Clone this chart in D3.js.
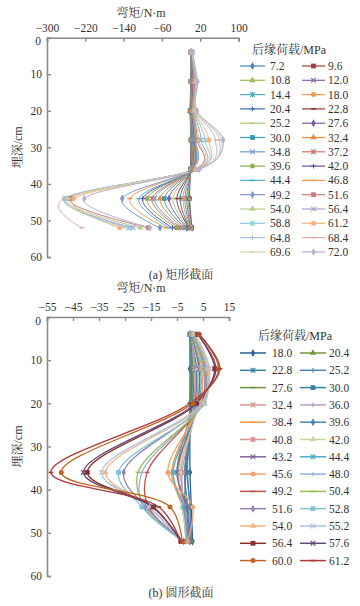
<!DOCTYPE html>
<html><head><meta charset="utf-8">
<script src="https://cdn.jsdelivr.net/npm/d3@7/dist/d3.min.js"></script>
<style>body{margin:0;background:#fff}svg{display:block}</style>
</head><body><svg id="c" width="360" height="606"></svg>
<script>
// ---------- DATA ----------
const depthsA = [4, 12, 20, 28, 36, 44, 52];
const loadsA = ["7.2","9.6","10.8","12.0","14.4","18.0","20.4","22.8","25.2","27.6","30.0","32.4","34.8","37.2","39.6","42.0","44.4","46.8","49.2","51.6","54.0","56.4","58.8","61.2","64.8","68.4","69.6","72.0"];
const momentsA = [
  [1, 0, -1, 0, 0, -2, 3],
  [1, 1, -1, 1, 0, -3, 2],
  [1, 1, -1, 1, 1, -5, 1],
  [1, 1, 0, 2, 1, -8, 0],
  [1, 2, 0, 2, 1, -12, -1],
  [1, 2, 0, 3, 1, -16, -2],
  [1, 2, 1, 3, 1, -22, -3],
  [1, 3, 1, 4, 1, -29, -4],
  [1, 3, 1, 4, 1, -37, -6],
  [1, 3, 1, 5, 1, -45, -8],
  [2, 4, 2, 5, 1, -55, -12],
  [2, 4, 2, 6, 1, -64, -16],
  [2, 5, 2, 6, 2, -75, -20],
  [2, 5, 3, 7, 2, -81, -25],
  [2, 6, 3, 8, 2, -91, -30],
  [2, 6, 3, 8, 2, -100, -38],
  [2, 7, 4, 9, 2, -108, -45],
  [2, 7, 4, 10, 2, -127, -52],
  [2, 8, 5, 11, 3, -143, -64],
  [2, 9, 6, 14, 8, -252, -88],
  [2, 10, 7, 17, 10, -258, -105],
  [3, 10, 8, 22, 12, -262, -120],
  [3, 11, 9, 30, 14, -260, -130],
  [3, 12, 10, 38, 15, -244, -148],
  [3, 12, 11, 52, 16, -262, -125],
  [3, 13, 12, 60, 18, -264, -227],
  [3, 14, 12, 65, 18, -256, -140],
  [3, 14, 13, 68, 18, -222, -85]
];
const depthsB = [4, 12, 20, 36, 44, 52];
const loadsB = ["18.0","20.4","22.8","25.2","27.6","30.0","32.4","36.0","38.4","39.6","40.8","42.0","43.2","44.4","45.6","48.0","49.2","50.4","51.6","52.8","54.0","55.2","56.4","57.6","60.0","61.2"];
const momentsB = [
  [0, 0, 0, 0, 0.5, 1],
  [0, 0.5, 0, -1, 0, 0.5],
  [0, 0.5, 0.5, -2, -1, 0],
  [0, 1, 0.5, -1, 0, 0.5],
  [0, 1, 1, -5, -1, 0],
  [0, 1.5, 1, -1.5, -2, -0.5],
  [0.5, 1.5, 1.5, -3.5, -2, -1],
  [0.5, 2, 2, -4.5, -2.5, -1],
  [0.5, 2.5, 2.5, -7, -3, -1.5],
  [0.5, 2.5, 2, -2, -1, 0],
  [0.5, 3, 2.5, -3, -2.5, -1.5],
  [0.5, 3, 3, -4, -3, -1],
  [0.5, 3.5, 3, -5, -1.5, -0.5],
  [0.5, 4, 3.5, -6.5, -2.5, -1],
  [1, 4.5, 4, -8.5, 1, -1],
  [1, 5, 4.5, -18.5, -18, -2],
  [1, 5.5, 4.5, -16.5, -16, -2.5],
  [1, 5.5, 5, -20, -17.5, -2],
  [1.5, 6, 5, -25.5, -17, -2.5],
  [1.5, 6.5, 5.5, -27.5, -18.5, -3],
  [1.5, 7, 5, -32.5, -15.5, -3],
  [2, 7.5, 4.5, -34, -16, -3],
  [3, 9.5, 2.5, -39.5, -14, -3.5],
  [3, 10, 2, -41, -14.5, -3],
  [3.5, 11, 1, -49.5, -7.7, -3],
  [3.5, 11.5, 0, -53.5, -12, -3.5]
];
const ticksXA = [-300, -220, -140, -60, 20, 100];
const ticksXB = [-55, -45, -35, -25, -15, -5, 5, 15];
const ticksY = [0, 10, 20, 30, 40, 50, 60];

// ---------- STYLES ----------
const colorsA = ["#4F81BD","#A0403D","#9BBB59","#8064A2","#4BACC6","#F79646","#3C6DB0","#953735","#B0C97A","#7A5FA0","#3A9AB5","#F08A3C","#6F9BD4","#D0706D","#8DB050","#6A50A0","#4BB0CA","#F59A50","#7C9AD0","#C77B7A","#B6CF8A","#ABA0C8","#8CCBDC","#F8B07A","#A9C1E3","#E2AAA9","#C9DBA8","#B9AED3"];
const markerCycle = ["diamond","square","triangle","x","star","circle","plus","dash","dash"];
const colorsB = ["#2F5F9A","#77933C","#31859C","#4F81BD","#77933C","#31859C","#D99694","#B3A2C7","#F79646","#4F81BD","#D99694","#C3D69B","#8064A2","#4BACC6","#F4A070","#95B3D7","#C0504D","#9BBB59","#9983B5","#7FC4D6","#F9B27E","#A9C1E3","#8B2E2B","#5F497A","#C0651F","#B03A36"];
const markersB = ["diamond","triangle","star","plus","dash","square","star","plus","dash","diamond","square","triangle","x","star","circle","plus","dash","dash","diamond","square","triangle","x","square","x","circle","dash"];

const serif = "'Liberation Serif','Times New Roman',serif";
const cjk = "'Liberation Serif','Noto Serif CJK SC','Noto Sans CJK SC',serif";
const svg = d3.select("#c");
const fmt = d => (d < 0 ? "\u2212" + Math.abs(d) : "" + d);

function marker(g, type, color, cx, cy) {
  const s = 2.4;
  if (type === "diamond") g.append("path").attr("d", d3.symbol(d3.symbolDiamond, 18)()).attr("transform", `translate(${cx},${cy})`).attr("fill", color);
  else if (type === "square") g.append("rect").attr("x", cx - s).attr("y", cy - s).attr("width", 2 * s).attr("height", 2 * s).attr("fill", color);
  else if (type === "triangle") g.append("path").attr("d", d3.symbol(d3.symbolTriangle, 18)()).attr("transform", `translate(${cx},${cy})`).attr("fill", color);
  else if (type === "circle") g.append("circle").attr("cx", cx).attr("cy", cy).attr("r", 2.5).attr("fill", color);
  else {
    let segs = [];
    if (type === "x" || type === "star") segs.push([-s, -s, s, s], [-s, s, s, -s]);
    if (type === "star") segs.push([0, -s, 0, s]);
    if (type === "plus") segs.push([-s, 0, s, 0], [0, -s, 0, s]);
    if (type === "dash") segs.push([-s, 0, s, 0]);
    segs.forEach(q => g.append("line").attr("x1", cx + q[0]).attr("y1", cy + q[1]).attr("x2", cx + q[2]).attr("y2", cy + q[3])
      .attr("stroke", color).attr("stroke-width", type === "dash" ? 1.6 : 1.1));
  }
}

function panel(cfg) {
  const x = d3.scaleLinear().domain(cfg.xd).range(cfg.xr);
  const y = d3.scaleLinear().domain([0, 60]).range(cfg.yr);
  const g = svg.append("g");
  const line = d3.line().x(d => x(d[0])).y(d => y(d[1])).curve(cfg.curve);
  cfg.values.forEach((vals, i) => {
    const pts = vals.map((v, j) => [v, cfg.depths[j]]);
    g.append("path").attr("d", line(pts)).attr("fill", "none").attr("stroke", cfg.colors[i]).attr("stroke-width", cfg.lw);
  });
  cfg.values.forEach((vals, i) => {
    vals.forEach((v, j) => marker(g, cfg.markers[i], cfg.colors[i], x(v), y(cfg.depths[j])));
  });
  const ax = g.append("g").attr("transform", `translate(0,${cfg.yr[0]})`)
    .call(d3.axisTop(x).tickValues(cfg.xt).tickSize(-4).tickPadding(6).tickFormat(fmt));
  const ay = g.append("g").attr("transform", `translate(${cfg.xr[0]},0)`)
    .call(d3.axisLeft(y).tickValues(ticksY).tickSize(-4).tickPadding(5));
  [ax, ay].forEach(a => {
    a.select(".domain").attr("stroke", "#8a8a8a").attr("stroke-width", 1.6);
    a.selectAll(".tick line").attr("stroke", "#8a8a8a").attr("stroke-width", 1.4);
    a.selectAll("text").attr("font-family", serif).attr("font-size", 11.5).attr("fill", "#333");
  });
  // lower the "0" label slightly so it clears the top axis labels
  ay.selectAll(".tick").filter(d => d === 0).select("text").attr("dy", "0.62em").attr("x", -6);
  svg.append("text").attr("x", 141).attr("y", cfg.titleY).attr("text-anchor", "middle")
    .attr("font-family", cjk).attr("font-size", 12).attr("fill", "#333").text("弯矩/N·m");
  svg.append("text").attr("transform", `translate(22,${(cfg.yr[0] + cfg.yr[1]) / 2}) rotate(-90)`).attr("text-anchor", "middle")
    .attr("font-family", cjk).attr("font-size", 12).attr("fill", "#333").text("埋深/cm");
  svg.append("text").attr("x", 181).attr("y", cfg.capY).attr("text-anchor", "middle")
    .attr("font-family", cjk).attr("font-size", 12).attr("fill", "#333").text(cfg.caption);
  const lg = svg.append("g");
  lg.append("text").attr("x", cfg.legTitleX).attr("y", cfg.legTitleY).attr("text-anchor", "middle")
    .attr("font-family", cjk).attr("font-size", 12).attr("fill", "#333").text("后缘荷载/MPa");
  cfg.loads.forEach((lab, i) => {
    const col = i % 2, row = Math.floor(i / 2);
    const ly = cfg.legY0 + row * cfg.legDy;
    const lx = cfg.legCols[col];
    lg.append("line").attr("x1", lx[0]).attr("x2", lx[1]).attr("y1", ly).attr("y2", ly).attr("stroke", cfg.colors[i]).attr("stroke-width", cfg.lw + 0.2);
    marker(lg, cfg.markers[i], cfg.colors[i], (lx[0] + lx[1]) / 2, ly);
    lg.append("text").attr("x", lx[2]).attr("y", ly + 4).attr("font-family", serif).attr("font-size", 11.5).attr("fill", "#333").text(lab);
  });
}

panel({
  xd: [-300, 100], xr: [47, 238.5], yr: [37.7, 257], xt: ticksXA,
  depths: depthsA, values: momentsA, loads: loadsA, colors: colorsA,
  markers: loadsA.map((_, i) => markerCycle[i % 9]), lw: 1,
  curve: d3.curveCatmullRom.alpha(0),
  titleY: 17, capY: 279, caption: "(a) 矩形截面",
  legTitleX: 289, legTitleY: 54, legY0: 66, legDy: 14.3,
  legCols: [[240, 265, 270], [302, 325, 328]]
});
panel({
  xd: [-55, 15], xr: [47, 229], yr: [317, 576], xt: ticksXB,
  depths: depthsB, values: momentsB, loads: loadsB, colors: colorsB,
  markers: markersB, lw: 1.3,
  curve: d3.curveCatmullRom.alpha(0.5),
  titleY: 292, capY: 597, caption: "(b) 圆形截面",
  legTitleX: 295, legTitleY: 340, legY0: 353, legDy: 17.3,
  legCols: [[240, 266, 272], [300, 326, 329]]
});
</script></body></html>
